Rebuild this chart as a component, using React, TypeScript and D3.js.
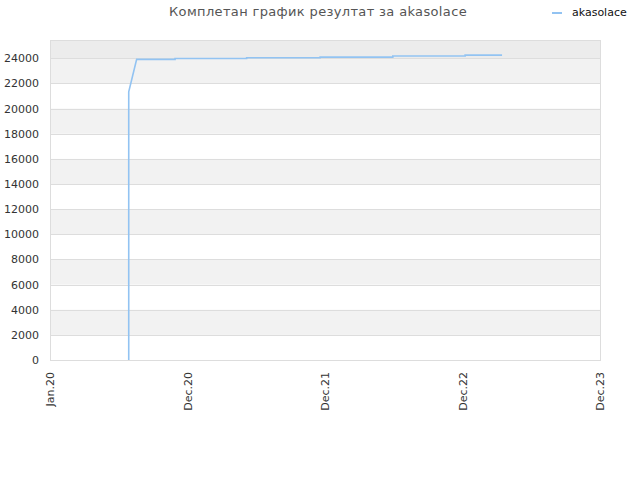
import React, { useEffect, useRef } from 'react';
import * as d3 from 'd3';

// step points of the running total (repeated dates make the steps)
const dates = [
  '2020-07-28', '2020-07-28', '2020-08-18', '2020-11-28', '2020-11-28',
  '2021-06-06', '2021-06-06', '2021-12-18', '2021-12-18', '2022-06-29',
  '2022-06-29', '2023-01-07', '2023-01-07', '2023-04-15',
];
const values = [
  0, 21330, 23920, 23920, 23985,
  23985, 24050, 24050, 24100, 24100,
  24185, 24185, 24260, 24260,
];
const tickDates = ['2020-01-01', '2020-12-31', '2021-12-31', '2022-12-31', '2023-12-31'];
const tickLabels = ['Jan.20', 'Dec.20', 'Dec.21', 'Dec.22', 'Dec.23'];
const yTicks = d3.range(0, 24001, 2000);

const title = 'Комплетан график резултат за akasolace';
const seriesName = 'akasolace';

const App: React.FC = () => {
  const svgRef = useRef<SVGSVGElement>(null);

  useEffect(() => {
    if (!svgRef.current) return;
    const svg = d3.select(svgRef.current);
    svg.selectAll('*').remove();

    const left = 50, right = 600, top = 40, bottom = 360;
    const font = 'DejaVu Sans, sans-serif';
    const parse = d3.utcParse('%Y-%m-%d');

    const x = d3.scaleUtc()
      .domain([parse(tickDates[0])!, parse(tickDates[tickDates.length - 1])!])
      .range([left, right]);
    const y = d3.scaleLinear().domain([0, 25460]).range([bottom, top]);

    // background bands
    const g = svg.append('g');
    g.append('rect')
      .attr('x', left).attr('y', top)
      .attr('width', right - left).attr('height', y(24000) - top)
      .attr('fill', '#ececec');
    yTicks.filter((_, i) => i % 2 === 1).forEach(v => {
      g.append('rect')
        .attr('x', left).attr('y', y(v + 2000))
        .attr('width', right - left).attr('height', y(v) - y(v + 2000))
        .attr('fill', '#f2f2f2');
    });

    // horizontal grid lines
    g.selectAll('line.grid')
      .data(yTicks)
      .join('line')
      .attr('x1', left).attr('x2', right)
      .attr('y1', d => Math.round(y(d)) + 0.5).attr('y2', d => Math.round(y(d)) + 0.5)
      .attr('stroke', '#dddddd');

    // plot frame
    g.append('rect')
      .attr('x', left + 0.5).attr('y', top + 0.5)
      .attr('width', right - left).attr('height', bottom - top)
      .attr('fill', 'none').attr('stroke', '#dddddd');

    // y labels
    g.selectAll('text.ylab')
      .data(yTicks)
      .join('text')
      .attr('x', 39).attr('y', d => y(d) + 4)
      .attr('text-anchor', 'end')
      .attr('font-family', font).attr('font-size', 11)
      .attr('fill', '#333')
      .text(d => String(d));

    // x labels (rotated)
    tickDates.forEach((d, i) => {
      const px = x(parse(d)!);
      g.append('text')
        .attr('transform', `translate(${px + 4},372) rotate(-90)`)
        .attr('text-anchor', 'end')
        .attr('font-family', font).attr('font-size', 11)
        .attr('fill', '#333')
        .text(tickLabels[i]);
    });

    // series line
    const pts = dates.map((d, i) => [x(parse(d)!), y(values[i])] as [number, number]);
    g.append('path')
      .datum(pts)
      .attr('fill', 'none')
      .attr('stroke', '#92c3f2')
      .attr('stroke-width', 1.6)
      .attr('d', d3.line());

    // title
    svg.append('text')
      .attr('x', 318).attr('y', 16)
      .attr('text-anchor', 'middle')
      .attr('font-family', font).attr('font-size', 13)
      .attr('letter-spacing', 0.35)
      .attr('fill', '#555')
      .text(title);

    // legend
    svg.append('line')
      .attr('x1', 552).attr('x2', 562).attr('y1', 13).attr('y2', 13)
      .attr('stroke', '#92c3f2').attr('stroke-width', 2);
    svg.append('text')
      .attr('x', 572).attr('y', 16)
      .attr('font-family', font).attr('font-size', 11)
      .attr('fill', '#111')
      .text(seriesName);
  }, []);

  return <svg ref={svgRef} width={640} height={480} style={{ position: 'absolute', left: 0, top: 0 }} />;
};

export default App;
